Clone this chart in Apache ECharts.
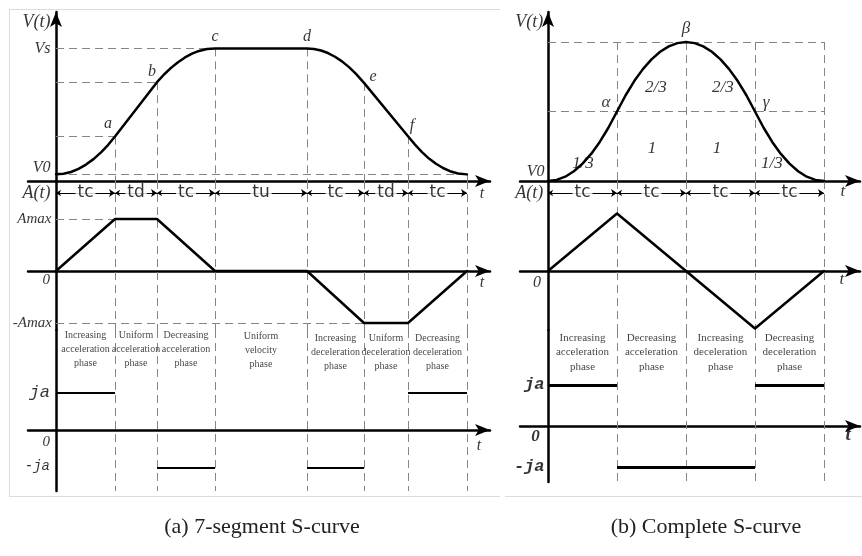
<!DOCTYPE html>
<html><head><meta charset="utf-8">
<script src="https://cdn.jsdelivr.net/npm/echarts@6/dist/echarts.min.js"></script>
<style>html,body{margin:0;padding:0;background:#fff}#c{width:862px;height:556px}</style>
</head><body><div id="c"></div>
<script>
// ===== Panel (a): 7-segment S-curve =====
const segNamesA = ['tc','td','tc','tu','tc','td','tc'];
const segBoundsA = [0, 5.9, 10.1, 15.9, 25.1, 30.8, 35.2, 41.1];
const phaseNamesA = ['Increasing\nacceleration\nphase','Uniform\nacceleration\nphase','Decreasing\nacceleration\nphase','Uniform\nvelocity\nphase','Increasing\ndeceleration\nphase','Uniform\ndeceleration\nphase','Decreasing\ndeceleration\nphase'];
const velTimeA = [0, 0.75, 1.5, 2.25, 3, 3.75, 4.5, 5.2, 5.9,
                  10.1, 10.8, 11.5, 12.2, 12.9, 13.6, 14.3, 15.1, 15.9,
                  25.1, 25.8, 26.5, 27.2, 27.9, 28.6, 29.3, 30.0, 30.8,
                  35.2, 35.9, 36.6, 37.3, 38.0, 38.7, 39.4, 40.2, 41.1];
const velValA  = [0.5, 0.55, 0.68, 0.91, 1.24, 1.65, 2.16, 2.71, 3.35,
                  7.45, 8.03, 8.53, 8.96, 9.32, 9.60, 9.81, 9.95, 10,
                  10, 9.96, 9.84, 9.65, 9.37, 9.02, 8.59, 8.08, 7.4,
                  3.38, 2.74, 2.18, 1.69, 1.30, 0.98, 0.74, 0.57, 0.5];
const accTimeA = [0, 5.9, 10.1, 15.9, 25.1, 30.8, 35.2, 41.1];
const accValA  = [0, 1, 1, 0, 0, -1, -1, 0];
const jerkSegA = [[0, 5.9, 1], [10.1, 15.9, -1], [25.1, 30.8, -1], [35.2, 41.1, 1]];
const pointNamesA = ['a','b','c','d','e','f'];
const pointLabelAtA = [[5.2, 4.3], [9.6, 8.2], [15.9, 10.9], [25.1, 10.9], [31.7, 7.85], [35.6, 4.15]];
const vTicksA = ['V0','Vs'];
const aTicksA = ['Amax','0','-Amax'];
const jTicksA = ['ja','0','-ja'];

// ===== Panel (b): Complete S-curve =====
const segNamesB = ['tc','tc','tc','tc'];
const segBoundsB = [0, 1, 2, 3, 4];
const phaseNamesB = ['Increasing\nacceleration\nphase','Decreasing\nacceleration\nphase','Increasing\ndeceleration\nphase','Decreasing\ndeceleration\nphase'];
const velTimeB = [0, 0.125, 0.25, 0.375, 0.5, 0.625, 0.75, 0.875, 1, 1.125, 1.25, 1.375, 1.5, 1.625, 1.75, 1.875, 2,
                  2.125, 2.25, 2.375, 2.5, 2.625, 2.75, 2.875, 3, 3.125, 3.25, 3.375, 3.5, 3.625, 3.75, 3.875, 4];
const velValB  = [0, 0.008, 0.031, 0.070, 0.125, 0.195, 0.281, 0.383, 0.5, 0.617, 0.719, 0.805, 0.875, 0.930, 0.969, 0.992, 1,
                  0.992, 0.969, 0.930, 0.875, 0.805, 0.719, 0.617, 0.5, 0.383, 0.281, 0.195, 0.125, 0.070, 0.031, 0.008, 0];
const accTimeB = [0, 1, 2, 3, 4];
const accValB  = [0, 1, 0, -1, 0];
const jerkSegB = [[0, 1, 1], [1, 3, -1], [3, 4, 1]];
const pointNamesB = ['α','β','γ'];
const pointLabelAtB = [[0.84, 0.568], [2.0, 1.094], [3.16, 0.568]];
const areaNamesB = ['1/3','1','2/3','2/3','1','1/3'];
const areaLabelAtB = [[0.507, 0.129], [1.507, 0.237], [1.565, 0.669], [2.536, 0.669], [2.449, 0.237], [3.246, 0.129]];

// ===== layout =====
const colL = {left: 28, width: 462, xmin: -2.8, xmax: 43.4};
const colR = {left: 520, width: 340, xmin: -0.406, xmax: 4.522};
const gridDefs = [
  {col: colL, top: 12,  height: 169, ymin: 0,      ymax: 12.745, arrow: true},  // 0 LV
  {col: colL, top: 181, height: 149, ymin: -1.135, ymax: 1.731,  arrow: false}, // 1 LA
  {col: colL, top: 330, height: 161, ymin: -1.627, ymax: 2.667,  arrow: false}, // 2 LJ
  {col: colR, top: 12,  height: 169, ymin: 0,      ymax: 1.216,  arrow: true},  // 3 RV
  {col: colR, top: 181, height: 149, ymin: -1.026, ymax: 1.565,  arrow: false}, // 4 RA
  {col: colR, top: 330, height: 152, ymin: -1.366, ymax: 2.341,  arrow: false}  // 5 RJ
];
const AX = {color: '#000', width: 2.5};
const grid = [], xAxis = [], yAxis = [], series = [];
gridDefs.forEach((g, i) => {
  grid.push({left: g.col.left, width: g.col.width, top: g.top, height: g.height, containLabel: false});
  xAxis.push({type: 'value', gridIndex: i, min: g.col.xmin, max: g.col.xmax,
    axisLine: {show: true, onZero: true, symbol: ['none', 'arrow'], symbolSize: [9, 15], lineStyle: AX},
    axisTick: {show: false}, axisLabel: {show: false}, splitLine: {show: false}});
  yAxis.push({type: 'value', gridIndex: i, min: g.ymin, max: g.ymax,
    axisLine: {show: true, onZero: true, symbol: g.arrow ? ['none', 'arrow'] : 'none', symbolSize: [9, 15], lineStyle: AX},
    axisTick: {show: false}, axisLabel: {show: false}, splitLine: {show: false}});
});

const DASH = {color: '#858585', width: 1, type: [8, 5]};
function linesS(gi, segs, style, sym, symSize, z) {
  return {type: 'lines', coordinateSystem: 'cartesian2d', xAxisIndex: gi, yAxisIndex: gi, polyline: false,
    silent: true, z: z || 1, symbol: sym || 'none', symbolSize: symSize || 0, animation: false,
    lineStyle: Object.assign({opacity: 1, curveness: 0}, style),
    data: segs.map(s => ({coords: s}))};
}
function textS(gi, items, lbl, z) {
  return {type: 'scatter', xAxisIndex: gi, yAxisIndex: gi, silent: true, z: z || 6, symbolSize: 1,
    itemStyle: {color: 'rgba(0,0,0,0)'}, animation: false,
    label: Object.assign({show: true, position: 'inside', formatter: '{b}', color: '#000', textBorderWidth: 0}, lbl),
    data: items.map(d => ({name: d[2], value: [d[0], d[1]]}))};
}
function curveS(gi, xs, ys, width) {
  return {type: 'line', xAxisIndex: gi, yAxisIndex: gi, silent: true, z: 4, symbol: 'none',
    smooth: false, animation: false,
    lineStyle: {color: '#000', width: width, join: 'round', cap: 'round'}, data: xs.map((t, i) => [t, ys[i]])};
}
const vAt = (ts, vs, t) => vs[ts.indexOf(t)];
const serifI = s => ({fontFamily: '"Liberation Serif", serif', fontStyle: 'italic', fontSize: s});
const monoI = (s, b) => ({fontFamily: '"Liberation Mono", monospace', fontStyle: 'italic', fontWeight: b ? 'bold' : 'normal', fontSize: s});

// ---------- panel (a) ----------
const V0a = velValA[0], VsA = vAt(velTimeA, velValA, 15.9);
const VaA = vAt(velTimeA, velValA, 5.9), VbA = vAt(velTimeA, velValA, 10.1);
const endA = segBoundsA[segBoundsA.length - 1];
const innerA = segBoundsA.slice(1);
series.push(linesS(0, [
  [[0, V0a], [endA, V0a]], [[0, VaA], [5.9, VaA]], [[0, VbA], [10.1, VbA]], [[0, VsA], [15.9, VsA]],
  ...innerA.map(t => [[t, vAt(velTimeA, velValA, t)], [t, 0]])
], DASH));
series.push(linesS(1, [
  [[0, 1], [5.9, 1]], [[0, -1], [30.8, -1]],
  ...innerA.map(t => [[t, gridDefs[1].ymax], [t, gridDefs[1].ymin]])
], DASH));
series.push(linesS(2, innerA.map(t => [[t, gridDefs[2].ymax], [t, gridDefs[2].ymin]]), DASH));
series.push(curveS(0, velTimeA, velValA, 2.5));
series.push(curveS(1, accTimeA, accValA, 2.5));
series.push(linesS(2, jerkSegA.map(s => [[s[0], s[2]], [s[1], s[2]]]), {color: '#000', width: 1.8}, 'none', 0, 4));
// interval bar
const barYA = 1.5;
series.push(linesS(1, segNamesA.map((n, i) => [[segBoundsA[i], barYA], [segBoundsA[i + 1], barYA]]),
  {color: '#000', width: 1}, ['arrow', 'arrow'], [5, 6], 3));
series.push(textS(1, segNamesA.map((n, i) => [(segBoundsA[i] + segBoundsA[i + 1]) / 2, barYA, n]),
  {fontFamily: '"DejaVu Sans", sans-serif', fontSize: 17, backgroundColor: '#fff', padding: [0, 2, 0, 2], lineHeight: 17}));
// labels
series.push(textS(0, pointNamesA.map((n, i) => [pointLabelAtA[i][0], pointLabelAtA[i][1], n]), serifI(16)));
series.push(textS(0, [[-0.55, 12.0, 'V(t)']], Object.assign(serifI(18), {align: 'right'})));
series.push(textS(0, [[-0.55, VsA, vTicksA[1]], [-0.55, 0.98, vTicksA[0]]], Object.assign(serifI(16), {align: 'right'})));
series.push(textS(1, [[-0.55, 1.5, 'A(t)']], Object.assign(serifI(18), {align: 'right'})));
series.push(textS(1, [[-0.45, 1.0, aTicksA[0]], [-0.6, -0.18, aTicksA[1]], [-0.4, -1.0, aTicksA[2]]], Object.assign(serifI(15), {align: 'right'})));
series.push(textS(1, [[42.6, 1.48, 't'], [42.6, -0.23, 't']], serifI(16)));
series.push(textS(2, [[-0.6, 1.0, jTicksA[0]]], Object.assign(monoI(17), {align: 'right'})));
series.push(textS(2, [[-0.6, -0.32, jTicksA[1]]], Object.assign(serifI(15), {align: 'right'})));
series.push(textS(2, [[-0.6, -0.97, jTicksA[2]]], Object.assign(monoI(14), {align: 'right'})));
series.push(textS(2, [[42.3, -0.43, 't']], serifI(16)));
series.push(textS(2, phaseNamesA.map((n, i) => [(segBoundsA[i] + segBoundsA[i + 1]) / 2, i < 3 ? 2.16 : (i === 3 ? 2.12 : 2.07), n]),
  {fontFamily: '"Liberation Serif", serif', fontSize: 10, lineHeight: 14, color: '#111', align: 'center'}));

// ---------- panel (b) ----------
const endB = segBoundsB[segBoundsB.length - 1];
const innerB = segBoundsB.slice(1);
const VpB = vAt(velTimeB, velValB, 2), VhB = vAt(velTimeB, velValB, 1);
series.push(linesS(3, [
  [[0, VpB], [endB, VpB]], [[0, VhB], [endB, VhB]],
  ...innerB.map(t => [[t, VpB], [t, 0]])
], DASH));
series.push(linesS(4, innerB.map(t => [[t, gridDefs[4].ymax], [t, gridDefs[4].ymin]]), DASH));
series.push(linesS(5, innerB.map(t => [[t, gridDefs[5].ymax], [t, gridDefs[5].ymin]]), DASH));
series.push(curveS(3, velTimeB, velValB, 2.5));
series.push(curveS(4, accTimeB, accValB, 2.5));
series.push(linesS(5, jerkSegB.map(s => [[s[0], s[2]], [s[1], s[2]]]), {color: '#000', width: 3}, 'none', 0, 4));
const barYB = 1.357;
series.push(linesS(4, segNamesB.map((n, i) => [[segBoundsB[i], barYB], [segBoundsB[i + 1], barYB]]),
  {color: '#000', width: 1}, ['arrow', 'arrow'], [5, 6], 3));
series.push(textS(4, segNamesB.map((n, i) => [(segBoundsB[i] + segBoundsB[i + 1]) / 2, barYB, n]),
  {fontFamily: '"DejaVu Sans", sans-serif', fontSize: 17, backgroundColor: '#fff', padding: [0, 2, 0, 2], lineHeight: 17}));
series.push(textS(3, pointNamesB.map((n, i) => [pointLabelAtB[i][0], pointLabelAtB[i][1], n]), serifI(17)));
series.push(textS(3, areaNamesB.map((n, i) => [areaLabelAtB[i][0], areaLabelAtB[i][1], n]), serifI(17)));
series.push(textS(3, [[-0.07, 1.144, 'V(t)']], Object.assign(serifI(18), {align: 'right'})));
series.push(textS(3, [[-0.05, 0.065, 'V0']], Object.assign(serifI(16), {align: 'right'})));
series.push(textS(4, [[-0.07, 1.357, 'A(t)']], Object.assign(serifI(18), {align: 'right'})));
series.push(textS(4, [[-0.1, -0.21, '0']], Object.assign(serifI(16), {align: 'right'})));
series.push(textS(4, [[4.275, 1.374, 't'], [4.26, -0.157, 't']], serifI(17)));
series.push(textS(5, [[-0.05, 1.0, 'ja'], [-0.05, -1.0, '-ja']], Object.assign(monoI(17, true), {align: 'right'})));
series.push(textS(5, [[-0.12, -0.27, '0']], Object.assign(serifI(17), {align: 'right', fontWeight: 'bold'})));
series.push(textS(5, [[4.35, -0.22, 't']], Object.assign(serifI(19), {fontWeight: 'bold'})));
series.push(textS(5, phaseNamesB.map((n, i) => [(segBoundsB[i] + segBoundsB[i + 1]) / 2, 1.8, n]),
  {fontFamily: '"Liberation Serif", serif', fontSize: 11, lineHeight: 14.5, color: '#111', align: 'center'}));

const FR = {stroke: '#dcdcdc', lineWidth: 1};
const option = {
  animation: false,
  backgroundColor: '#fff',
  grid, xAxis, yAxis, series,
  graphic: [
    {type: 'line', shape: {x1: 9, y1: 9.5, x2: 500, y2: 9.5}, style: FR, silent: true},
    {type: 'line', shape: {x1: 9.5, y1: 9, x2: 9.5, y2: 497}, style: FR, silent: true},
    {type: 'line', shape: {x1: 9, y1: 496.5, x2: 500, y2: 496.5}, style: FR, silent: true},
    {type: 'line', shape: {x1: 505, y1: 496.5, x2: 862, y2: 496.5}, style: FR, silent: true},
    {type: 'text', x: 262, y: 527, silent: true, style: {text: '(a) 7-segment S-curve', font: '22px "Liberation Serif", serif', fill: '#222', textAlign: 'center', textVerticalAlign: 'middle'}},
    {type: 'text', x: 706, y: 527, silent: true, style: {text: '(b) Complete S-curve', font: '22px "Liberation Serif", serif', fill: '#222', textAlign: 'center', textVerticalAlign: 'middle'}}
  ]
};
const chart = echarts.init(document.getElementById('c'));
chart.setOption(option);
</script>
</body></html>
